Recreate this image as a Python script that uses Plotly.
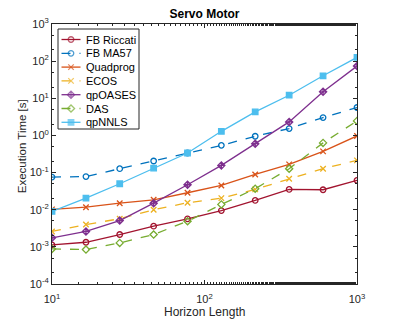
import plotly.graph_objects as go

# horizon lengths (logspace 10..1000, 10 points)
horizon = [10, 16.7, 27.8, 46.4, 77.4, 129, 215, 359, 599, 1000]

fb_riccati = [1.13e-3, 1.33e-3, 2.15e-3, 3.6e-3, 5.7e-3, 9.5e-3, 0.0178, 0.0352, 0.0345, 0.0616]
fb_ma57 = [0.0757, 0.078, 0.127, 0.205, 0.336, 0.54, 0.95, 1.53, 3.03, 5.64]
quadprog = [0.0102, 0.0117, 0.0150, 0.0185, 0.0286, 0.045, 0.089, 0.166, 0.373, 0.968]
ecos = [2.6e-3, 4.0e-3, 5.7e-3, 9.96e-3, 0.0154, 0.0205, 0.0352, 0.0684, 0.127, 0.213]
qpoases = [1.75e-3, 2.6e-3, 5.1e-3, 0.015, 0.047, 0.156, 0.60, 2.31, 14.9, 73.5]
das = [8.8e-4, 8.45e-4, 1.28e-3, 2.15e-3, 4.9e-3, 0.0139, 0.0367, 0.127, 0.63, 2.46]
qpnnls = [8.97e-3, 0.0205, 0.050, 0.132, 0.336, 1.29, 4.3, 12.1, 40.3, 126]

series = [
    ('FB Riccati', fb_riccati, '#A2142F', 'solid', 'circle-open'),
    ('FB MA57', fb_ma57, '#0072BD', 'dash', 'circle-open'),
    ('Quadprog', quadprog, '#D95319', 'solid', 'x-thin-open'),
    ('ECOS', ecos, '#EDB120', 'dash', 'x-thin-open'),
    ('qpOASES', qpoases, '#7E2F8E', 'solid', 'diamond-cross-open'),
    ('DAS', das, '#77AC30', 'dash', 'diamond-open'),
    ('qpNNLS', qpnnls, '#4DBEEE', 'solid', 'square'),
]

x_ticks = [10, 100, 1000]
x_labels = ['10<sup>1</sup>', '10<sup>2</sup>', '10<sup>3</sup>']
y_ticks = [1e-4, 1e-3, 1e-2, 1e-1, 1, 10, 100, 1000]
y_labels = ['10<sup>-4</sup>', '10<sup>-3</sup>', '10<sup>-2</sup>', '10<sup>-1</sup>',
            '10<sup>0</sup>', '10<sup>1</sup>', '10<sup>2</sup>', '10<sup>3</sup>']

FONT = 'Liberation Sans'
AX = '#262626'

# page has an 8px body margin, so the figure is shifted by 8px
L, T = 44, 16
W, H = 395, 320
PW, PH = 305, 260
R, B = W - L - PW, H - T - PH

fig = go.Figure()
for name, vals, color_, dash_, sym in series:
    fig.add_trace(go.Scatter(
        x=horizon, y=vals, name=name, mode='lines+markers', showlegend=False,
        line=dict(color=color_, width=1.3, dash=dash_),
        marker=dict(symbol=sym, size=5.5, color=color_, line=dict(color=color_, width=1.3)),
    ))

# legend drawn on a hidden overlay axis measured in pixels from the plot's top-left
leg_x0, leg_x1, leg_y0, leg_y1 = 6, 87, 5, 105
row0, row_h = 15.5, 13.8
fig.add_shape(type='rect', xref='x2', yref='y2', x0=leg_x0, x1=leg_x1, y0=leg_y0, y1=leg_y1,
              line=dict(color=AX, width=1), fillcolor='white', layer='below')
for i, (name, vals, color_, dash_, sym) in enumerate(series):
    ry = row0 + i * row_h
    fig.add_trace(go.Scatter(
        x=[9.5, 19, 28.5], y=[ry, ry, ry], xaxis='x2', yaxis='y2', mode='lines+markers',
        showlegend=False, hoverinfo='skip',
        line=dict(color=color_, width=1.3, dash=dash_),
        marker=dict(symbol=sym, size=[0, 5.5, 0], color=color_, line=dict(color=color_, width=1.3)),
    ))
    fig.add_annotation(x=31.5, y=ry, xref='x2', yref='y2', text=name, showarrow=False,
                       xanchor='left', yanchor='middle',
                       font=dict(family=FONT, size=11, color='black'))

axis_common = dict(
    type='log', showgrid=False, zeroline=False, showline=True,
    linecolor=AX, linewidth=1, mirror='allticks',
    ticks='inside', ticklen=4, tickcolor=AX,
    tickfont=dict(family=FONT, size=11, color=AX),
    minor=dict(ticks='inside', ticklen=2, tickcolor=AX, showgrid=False),
)

# axis titles
fig.add_annotation(x=0.5, y=-28 / PH, xref='paper', yref='paper', text='Horizon Length',
                   showarrow=False, xanchor='center', yanchor='middle',
                   font=dict(family=FONT, size=12, color=AX))
fig.add_annotation(x=-30 / PW, y=0.53, xref='paper', yref='paper', text='Execution Time [s]',
                   showarrow=False, xanchor='center', yanchor='middle', textangle=-90,
                   font=dict(family=FONT, size=11.5, color=AX))

fig.update_layout(
    width=W, height=H,
    margin=dict(l=L, r=R, t=T, b=B, autoexpand=False),
    plot_bgcolor='white', paper_bgcolor='white',
    xaxis=dict(range=[1, 3], tickvals=x_ticks, ticktext=x_labels, ticklabelstandoff=5,
               **axis_common),
    yaxis=dict(range=[-4, 3], tickvals=y_ticks, ticktext=y_labels, **axis_common),
    xaxis2=dict(overlaying='x', range=[0, PW], visible=False, fixedrange=True),
    yaxis2=dict(overlaying='y', range=[PH, 0], visible=False, fixedrange=True),
    title=dict(text='<b>Servo Motor</b>', x=L / W + PW / W / 2, xanchor='center',
               y=1 - 6 / H, yanchor='middle',
               font=dict(family=FONT, size=12, color='black')),
    showlegend=False,
)

fig.write_html("out.html")
